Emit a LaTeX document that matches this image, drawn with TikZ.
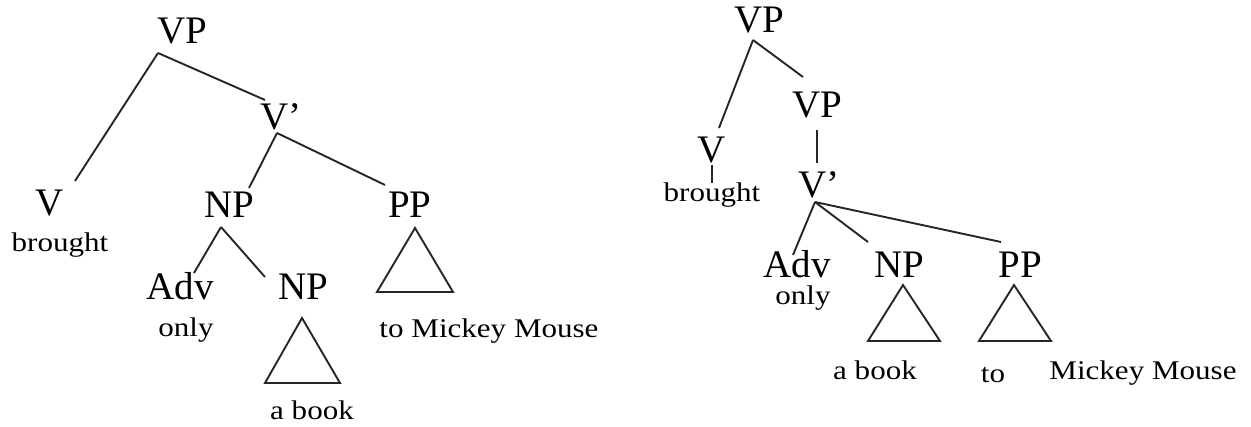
\documentclass[tikz,border=0pt]{standalone}
\usepackage{fontspec}
\setmainfont{Liberation Serif}
\newfontfamily\wordfont{Liberation Serif}[FakeStretch=1.15]
\usetikzlibrary{positioning}

\begin{document}
\begin{tikzpicture}[x=1pt, y=1pt, node distance=86pt,
                    cat/.style={font=\fontsize{39}{40}\selectfont, inner sep=0pt, text height=26pt, text depth=0pt},
                    word/.style={font=\wordfont\fontsize{27}{28}\selectfont, inner sep=0pt, text height=19pt, text depth=6pt},
                    branch/.style={color=black!85, line width=1.9pt},
                    tri/.style={draw=black!85, line width=1.9pt, line join=miter},
                    ]
                    \useasboundingbox (0,0) rectangle (1251,-427);

                    \node [cat](vpL) at (182,-31){VP};
                    \node [cat](vbarL) [below of = vpL, xshift = 99]{V’};
                    \node [cat](vL) [below of = vbarL, xshift = -231]{V};
                    \node [word](broughtL) [below of = vL, xshift = 10, yshift = 44]{brought};
                    \node [cat](npL) [below of = vbarL, xshift = -52, yshift = -2]{NP};
                    \node [cat](ppL) [below of = vbarL, xshift = 129, yshift = -2]{PP};
                    \node [cat](advL) [below of = npL, xshift = -49, yshift = 4]{Adv};
                    \node [word](onlyL) [below of = advL, xshift = 6, yshift = 43]{only};
                    \node [cat](np2L) [below of = npL, xshift = 74, yshift = 4]{NP};
                    \node [word](abookL) [below of = np2L, xshift = 9, yshift = -40]{a book};
                    \node [word](mickeyL) [below of = ppL, xshift = 79, yshift = -40]{to Mickey Mouse};

                    \node [cat](vpR) at (759,-20){VP};
                    \node [cat](vR) [below of = vpR, xshift = -47, yshift = -44]{V};
                    \node [word](broughtR) [below of = vR, yshift = 41]{brought};
                    \node [cat](vp2R) [below of = vpR, xshift = 58, yshift = 1]{VP};
                    \node [cat](vbarR) [below of = vp2R, xshift = 2, yshift = 6]{V’};
                    \node [cat](advR) [below of = vbarR, xshift = -22, yshift = 6]{Adv};
                    \node [word](onlyR) [below of = advR, xshift = 6, yshift = 53]{only};
                    \node [cat](npR) [below of = vbarR, xshift = 80, yshift = 6]{NP};
                    \node [cat](ppR) [below of = vbarR, xshift = 201, yshift = 6]{PP};
                    \node [word](abookR) [below of = npR, xshift = -24, yshift = -22]{a book};
                    \node [word](toR) [below of = ppR, xshift = -27, yshift = -25]{to};
                    \node [word](mickeyR) [below of = ppR, xshift = 123, yshift = -22]{Mickey Mouse};

                    \path[branch]
                        ([xshift=-24,yshift=-22]vpL.center) edge ([xshift=25,yshift=22]vL.center)
                        ([xshift=-24,yshift=-22]vpL.center) edge ([xshift=-16,yshift=17]vbarL.center)
                        ([xshift=-4,yshift=-16]vbarL.center) edge ([xshift=20,yshift=17]npL.center)
                        ([xshift=-4,yshift=-16]vbarL.center) edge ([xshift=-25,yshift=20]ppL.center)
                        ([xshift=-8,yshift=-22]npL.center) edge ([xshift=14,yshift=14]advL.center)
                        ([xshift=-8,yshift=-22]npL.center) edge ([xshift=-38,yshift=10]np2L.center)

                        ([xshift=-6,yshift=-20]vpR.center) edge ([xshift=7,yshift=22]vR.center)
                        ([xshift=-6,yshift=-20]vpR.center) edge ([xshift=-14,yshift=28]vp2R.center)
                        ([yshift=-15]vR.center) edge ([yshift=12]broughtR.center)
                        ([yshift=-25]vp2R.center) edge ([xshift=-2,yshift=22]vbarR.center)
                        ([xshift=-4,yshift=-17]vbarR.center) edge ([xshift=-4,yshift=10]advR.center)
                        ([xshift=-4,yshift=-17]vbarR.center) edge ([xshift=-31,yshift=23]npR.center)
                        ([xshift=-4,yshift=-17]vbarR.center) edge ([xshift=-19,yshift=23]ppR.center)
                    ;

                    \draw [tri] ([xshift=-1,yshift=-31]np2L.center) -- ++(-37,-65) -- ++(75,0) -- cycle;
                    \draw [tri] ([xshift=5,yshift=-23]ppL.center) -- ++(-38,-64) -- ++(76,0) -- cycle;
                    \draw [tri] ([xshift=4,yshift=-20]npR.center) -- ++(-35,-56) -- ++(72,0) -- cycle;
                    \draw [tri] ([xshift=-6,yshift=-20]ppR.center) -- ++(-35,-56) -- ++(72,0) -- cycle;

                \end{tikzpicture}
\end{document}
